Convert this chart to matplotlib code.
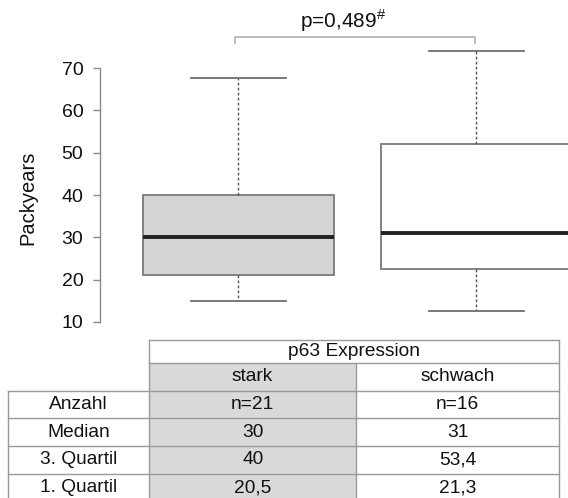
import matplotlib
matplotlib.use("Agg")
import matplotlib.pyplot as plt
from matplotlib.patches import Rectangle

plt.rcParams['font.family'] = ['Liberation Sans', 'DejaVu Sans']
plt.rcParams['mathtext.fontset'] = 'custom'
plt.rcParams['mathtext.rm'] = 'Liberation Sans'

# ---- data ----
groups = ["stark", "schwach"]
whisker_low = [15.0, 12.5]
q1_vals = [21.0, 22.6]
medians = [30.0, 31.0]
q3_vals = [40.0, 52.0]
whisker_high = [67.6, 74.0]
box_fills = ["#d4d4d4", "#ffffff"]
yticks = [10, 20, 30, 40, 50, 60, 70]
p_text = "p=0,489"
p_sup = "#"

table_header = "p63 Expression"
row_labels = ["Anzahl", "Median", "3. Quartil", "1. Quartil"]
stark_col = ["n=21", "30", "40", "20,5"]
schwach_col = ["n=16", "31", "53,4", "21,3"]

W, H = 568, 498
fig = plt.figure(figsize=(W / 100, H / 100), dpi=100)

# ---- boxplot axes ----
ax_left_px, ax_right_px = 100, 568
ax_top_px, ax_bot_px = 0, 330
ax = fig.add_axes([ax_left_px / W, (H - ax_bot_px) / H,
                   (ax_right_px - ax_left_px) / W, (ax_bot_px - ax_top_px) / H])

positions = [1, 2]
stats = []
for i in range(len(groups)):
    stats.append(dict(med=medians[i], q1=q1_vals[i], q3=q3_vals[i],
                      whislo=whisker_low[i], whishi=whisker_high[i], fliers=[]))

bp = ax.bxp(stats, positions=positions, widths=0.8, capwidths=0.4,
            patch_artist=True, showfliers=False,
            boxprops=dict(edgecolor="#7a7a7a", linewidth=1.3),
            whiskerprops=dict(color="#555555", linewidth=1.0, linestyle=(0, (2.0, 1.6))),
            capprops=dict(color="#6e6e6e", linewidth=1.3),
            medianprops=dict(color="#222222", linewidth=2.8, solid_capstyle="butt"))
for patch, fc in zip(bp["boxes"], box_fills):
    patch.set_facecolor(fc)

x_lo = 0.419
px_per_x = 238.0
ax.set_xlim(x_lo, 2.385)
ax.set_ylim(10 - 8 / 4.233, 70 + 68 / 4.233)

for s in ["top", "right", "bottom"]:
    ax.spines[s].set_visible(False)
ax.spines["left"].set_bounds(10, 70)
ax.spines["left"].set_color("#8a8a8a")
ax.spines["left"].set_linewidth(1.0)
ax.set_xticks([])
ax.set_yticks(yticks)
ax.set_yticklabels([str(t) for t in yticks])
ax.tick_params(axis="y", length=5, width=1.0, color="#8a8a8a", pad=7,
               labelsize=14, labelcolor="#111111")
ax.set_ylabel("Packyears", fontsize=14.5, color="#111111")
ax.yaxis.set_label_coords(-(100 - 37) / 468, (330 - 198) / 330)
ax.patch.set_alpha(0)

# significance bracket
yb_top = 70 + (68 - 36.5) / 4.233
yb_bot = 70 + (68 - 42.5) / 4.233
ax.plot([positions[0] - 0.013, positions[0] - 0.013, positions[1] - 0.005, positions[1] - 0.005],
        [yb_bot, yb_top, yb_top, yb_bot], color="#b0b0b0", lw=1.2, clip_on=False)
ax.text(x_lo + (300 - 100) / px_per_x, 70 + (68 - 28) / 4.233, p_text + r"$^{\#}$",
        ha="left", va="baseline", fontsize=15, color="#111111")

# ---- table overlay ----
at = fig.add_axes([0, 0, 1, 1])
at.set_xlim(0, W)
at.set_ylim(H, 0)
at.axis("off")
at.patch.set_alpha(0)

x0, x1, x2, x3 = 7.7, 149.3, 356.0, 559.3
y_top, y_hdr, y_col = 340.0, 362.7, 390.7
row_h = 27.7
row_edges = [y_col + i * row_h for i in range(len(row_labels) + 1)]
y_end = row_edges[-1]
lc = "#9a9a9a"

at.add_patch(Rectangle((x1, y_hdr), x2 - x1, y_end - y_hdr, facecolor="#d9d9d9",
                       edgecolor="none"))
at.plot([x1, x3], [y_top, y_top], color=lc, lw=1)
at.plot([x1, x3], [y_hdr, y_hdr], color=lc, lw=1)
for y in row_edges:
    at.plot([x0, x3], [y, y], color=lc, lw=1)
at.plot([x0, x0], [y_col, y_end], color=lc, lw=1)
at.plot([x1, x1], [y_top, y_end], color=lc, lw=1)
at.plot([x2, x2], [y_hdr, y_end], color=lc, lw=1)
at.plot([x3, x3], [y_top, y_end], color=lc, lw=1)

fs = 13.8
tc = "#111111"
at.text((x1 + x3) / 2, (y_top + y_hdr) / 2, table_header, ha="center", va="center",
        fontsize=fs, color=tc)
at.text((x1 + x2) / 2, (y_hdr + y_col) / 2, groups[0], ha="center", va="center",
        fontsize=fs, color=tc)
at.text((x2 + x3) / 2, (y_hdr + y_col) / 2, groups[1], ha="center", va="center",
        fontsize=fs, color=tc)
for i, lab in enumerate(row_labels):
    yc = (row_edges[i] + row_edges[i + 1]) / 2
    at.text((x0 + x1) / 2, yc, lab, ha="center", va="center", fontsize=fs, color=tc)
    at.text((x1 + x2) / 2, yc, stark_col[i], ha="center", va="center", fontsize=fs, color=tc)
    at.text((x2 + x3) / 2, yc, schwach_col[i], ha="center", va="center", fontsize=fs, color=tc)

fig.savefig("out.png", dpi=100)
